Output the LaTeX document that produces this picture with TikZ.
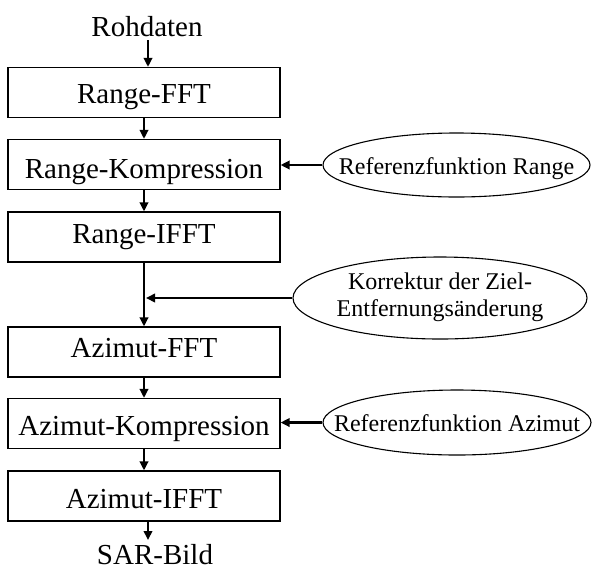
\documentclass[tikz,border=0pt]{standalone}
\usepackage{fontspec}
\setmainfont{Liberation Serif}
\usetikzlibrary{shapes.geometric,arrows.meta}
\begin{document}
\begin{tikzpicture}[x=0.5pt,y=-0.5pt,
  bl/.style={text height=8pt+#1,text depth=8pt-#1},
  box/.style={draw,line width=0.6pt,minimum width=136pt,minimum height=25pt,inner sep=0pt,
    font=\fontsize{14.5}{17}\selectfont},
  oval/.style={draw,ellipse,line width=0.55pt,inner sep=0pt,font=\fontsize{12}{13.5}\selectfont},
  lbl/.style={inner sep=0pt,font=\fontsize{14.5}{17}\selectfont,anchor=base},
  arr/.style={line width=1.15pt,-{Triangle[length=4.5pt,width=4.2pt]}}]
\useasboundingbox (0,0) rectangle (592,568);
% main chain
\node[lbl] (roh) at (147,36) {Rohdaten};
\node[box,bl=5.25pt] (fft) at (144,92.5) {Range-FFT};
\node[box,bl=6.75pt] (rk) at (144,164.5) {Range-Kompression};
\node[box,bl=3pt] (rifft) at (144,237) {Range-IFFT};
\node[box,bl=2.5pt] (afft) at (144,352) {Azimut-FFT};
\node[box,bl=5.75pt] (ak) at (144,423.5) {Azimut-Kompression};
\node[box,bl=6pt] (aifft) at (144,496) {Azimut-IFFT};
\node[lbl] (sar) at (155,564) {SAR-Bild};
% side inputs
\node[oval,minimum width=133.5pt,minimum height=32pt,text height=11pt,text depth=2pt] (ref1) at (456.5,165)
  {\makebox[0pt]{Referenzfunktion Range}};
\node[oval,minimum width=147pt,minimum height=41pt] (korr) at (440,298)
  {\makebox[0pt]{\begin{tabular}{@{}c@{}}Korrektur der Ziel-\\Entfernungsänderung\end{tabular}}};
\node[oval,minimum width=134pt,minimum height=32.5pt,text height=11pt,text depth=2pt] (ref3) at (457,422.5)
  {\makebox[0pt]{Referenzfunktion Azimut}};
% connectors
\coordinate (rohin) at (148,40);
\coordinate (sarin) at (148,540);
\coordinate (join) at (146,298);
\draw[arr] (rohin) -- (rohin |- fft.north);
\draw[arr] (fft) -- (rk);
\draw[arr] (rk) -- (rifft);
\draw[arr] (rifft) -- (afft);
\draw[arr] (afft) -- (ak);
\draw[arr] (ak) -- (aifft);
\draw[arr] (sarin |- aifft.south) -- (sarin);
\draw[arr] (ref1.west) -- (ref1.west -| rk.east);
\draw[arr] (korr.west) -- (join);
\draw[arr] (ref3.west) -- (ref3.west -| ak.east);
\end{tikzpicture}
\end{document}
